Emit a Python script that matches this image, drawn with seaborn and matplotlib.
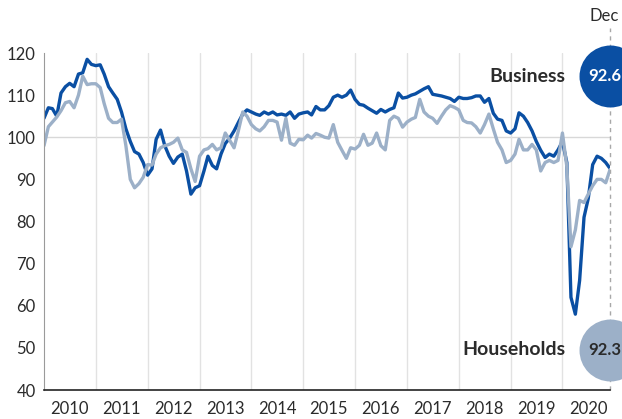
import matplotlib
matplotlib.use("Agg")
import matplotlib.pyplot as plt
import seaborn as sns
import pandas as pd

# monthly confidence indices, Jan 2010 - Dec 2020
months = pd.date_range("2010-01-01", "2020-12-01", freq="MS")

business = [
    104.5, 107, 106.8, 105, 110.5, 112, 112.8, 112, 115, 115.3, 118.5, 117.3,
    117, 117.2, 115, 112, 110.5, 109, 106, 102, 99, 96.6, 96, 94,
    91, 92.5, 99.5, 101.7, 98, 95.5, 93.8, 95.3, 96, 92, 86.5, 88,
    88.5, 92, 95.5, 93.3, 92.5, 96, 98.5, 99.8, 101.5, 103.5, 105.5, 106.5,
    106, 105.5, 105.2, 106, 105.5, 106, 105.3, 105.5, 105.2, 106, 104.5, 105.5,
    105.8, 106, 105.3, 107.3, 106.5, 106.5, 107.5, 109.5, 110, 109.5, 110, 111.2,
    109, 107.8, 107.6, 106.9, 106.3, 105.7, 106.6, 106, 106.6, 107, 110.5, 109.3,
    109.5, 110, 110.3, 110.9, 111.5, 112, 110.2, 110, 109.8, 109.5, 109.2, 108.5,
    109.5, 109.2, 109.2, 109.4, 109.8, 109.8, 108.3, 109.2, 105.7, 104.3, 104, 101.5,
    101, 102, 105.8, 105, 103.5, 101.5, 99, 96.9, 95.2, 96, 95.5, 97,
    99, 94, 62, 58, 66, 81, 85.5, 93.5, 95.5, 95, 94, 92.6,
]

households = [
    98, 102.5, 103.6, 104.8, 106.3, 108.2, 108.5, 107, 110, 114.5, 112.5, 112.7,
    112.7, 111.8, 108, 104.5, 103.5, 103.5, 104.3, 98, 90, 88, 89, 90.5,
    93.5, 93.4, 96, 97.5, 98, 98.3, 98.8, 99.8, 97, 96.4, 92.5, 89.5,
    95.5, 97, 97.3, 98.3, 97, 97.5, 101, 99.3, 97.5, 101.5, 106, 105,
    103, 102, 101.5, 102.5, 104, 104, 103.6, 99.3, 104.5, 98.6, 98.1, 99.5,
    99.4, 100.5, 99.8, 100.9, 100.5, 100, 99.8, 103, 98.8, 96.9, 95, 97.5,
    97.2, 98.1, 100.7, 98.1, 98.6, 101, 98, 97, 104, 105, 104.5, 102.4,
    103.6, 104.3, 104.7, 109, 106, 105, 104.5, 103.3, 105, 106.5, 107.5, 107.1,
    106.5, 104, 103.5, 103.4, 102.5, 101, 103, 105.5, 102, 98.8, 97, 94,
    94.5, 96, 99.5, 97, 97, 98.3, 97, 92, 94, 94.5, 94, 94.5,
    101, 93, 74, 78, 85, 84.5, 86.5, 88.5, 90, 90, 89.2, 92.3,
]

years = list(range(2010, 2021))

BLUE = "#0a4fa3"
LIGHT = "#9cb0c8"
TEXT = "#2b2b2b"

sns.set_style("white")
plt.rcParams["font.family"] = ["Lato", "DejaVu Sans"]

df = pd.DataFrame({"date": months, "Business": business, "Households": households})
long_df = df.melt(id_vars="date", var_name="series", value_name="value")

fig = plt.figure(figsize=(6.22, 4.19), dpi=100)
ax = fig.add_axes([0.0707, 0.0692, 0.9100, 0.8043])

sns.lineplot(data=long_df, x="date", y="value", hue="series",
             hue_order=["Business", "Households"],
             palette={"Business": BLUE, "Households": LIGHT},
             linewidth=2.4, legend=False, ax=ax)

ax.set_xlim(months[0], months[-1])
ax.set_ylim(40, 120)
ax.set_yticks(range(40, 121, 10))
ax.set_xlabel("")
ax.set_ylabel("")

# year boundaries as gridlines, labels centred on each year
ax.set_xticks(pd.to_datetime([f"{y}-01-01" for y in years[1:]]))
ax.set_xticklabels([])
ax.set_xticks(pd.to_datetime([f"{y}-07-01" for y in years]), minor=True)
ax.set_xticklabels([str(y) for y in years], minor=True)
ax.xaxis.grid(True, which="major", color="#e2e2e2", lw=1)
ax.axhline(100, color="#d8d8d8", lw=1, zorder=0)
ax.set_axisbelow(True)
ax.tick_params(which="both", length=0, labelsize=12, colors=TEXT)
ax.tick_params(axis="x", which="minor", pad=8)
ax.tick_params(axis="y", pad=6)

sns.despine(ax=ax)
ax.spines["left"].set_color("#9a9a9a")
ax.spines["bottom"].set_color("#222222")
ax.spines["bottom"].set_linewidth(1.2)

# dashed marker for the latest month
ax.axvline(months[-1], ymin=0, ymax=1.074, color="#a8a8a8", lw=1,
           linestyle=(0, (3, 3)), clip_on=False, zorder=1)
ax.annotate("Dec", xy=(months[-1], 1), xycoords=("data", "axes fraction"),
            xytext=(-4, 27), textcoords="offset points", ha="center", va="center",
            fontsize=12, color=TEXT)

# end-value bubbles
label_y = {"Business": 114.5, "Households": 49.5}
bubble_col = {"Business": BLUE, "Households": LIGHT}
value_col = {"Business": "white", "Households": TEXT}
last_vals = {"Business": business[-1], "Households": households[-1]}

for name in ["Business", "Households"]:
    ax.scatter([months[-1]], [label_y[name]], s=1990, color=bubble_col[name],
               clip_on=False, zorder=5, linewidths=0)
    ax.annotate(f"{last_vals[name]}", xy=(months[-1], label_y[name]),
                xytext=(-4, 0), textcoords="offset points", ha="center", va="center",
                fontsize=12, fontweight="bold", color=value_col[name], zorder=6)
    ax.annotate(name, xy=(months[-1], label_y[name]), xytext=(-32, 0),
                textcoords="offset points", ha="right", va="center",
                fontsize=14, fontweight="bold", color=TEXT)

fig.savefig("out.png", dpi=100)
